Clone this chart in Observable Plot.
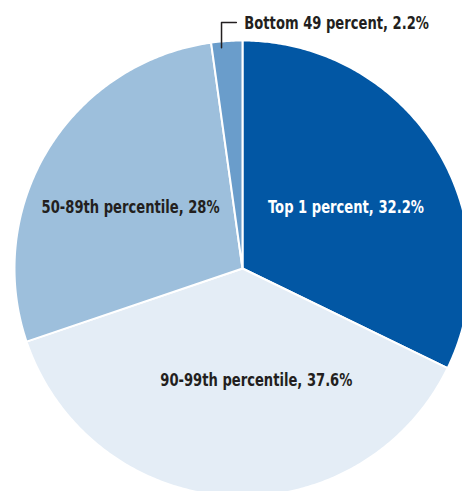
<!DOCTYPE html>
<html>
<head>
<meta charset="utf-8">
<script src="https://cdn.jsdelivr.net/npm/d3@7"></script>
<script src="https://cdn.jsdelivr.net/npm/@observablehq/plot@0.6"></script>
<style>
  html, body { margin: 0; padding: 0; background: #fff; overflow: hidden; }
  #chart svg { overflow: hidden; display: block; }
  #chart text { font-stretch: condensed; }
</style>
</head>
<body>
<div id="chart"></div>
<script>
const categories = ["Top 1 percent", "90-99th percentile", "50-89th percentile", "Bottom 49 percent"];
const shares = [32.2, 37.6, 28, 2.2];
const valueLabels = ["32.2%", "37.6%", "28%", "2.2%"];
const colors = ["#0257a4", "#e4edf6", "#9dbfdc", "#6a9dcb"];
const textColors = ["#ffffff", "#231f20", "#231f20", "#231f20"];

const rows = categories.map((c, i) => ({ category: c, share: shares[i], label: `${c}, ${valueLabels[i]}`, color: colors[i], textColor: textColors[i] }));
const arcs = d3.pie().sort(null).value(d => d.share)(rows);

// Polygon points of each slice in unit-circle coordinates
const polys = [];
arcs.forEach((a, i) => {
  polys.push({ k: i, x: 0, y: 0, color: a.data.color });
  const n = Math.max(4, Math.ceil((a.endAngle - a.startAngle) / 0.01));
  for (let j = 0; j <= n; j++) {
    const t = a.startAngle + (a.endAngle - a.startAngle) * j / n;
    polys.push({ k: i, x: Math.sin(t), y: Math.cos(t), color: a.data.color });
  }
  polys.push({ k: i, x: 0, y: 0, color: a.data.color });
});

const mid = a => (a.startAngle + a.endAngle) / 2;
const at = (a, r) => ({ x: Math.sin(mid(a)) * r, y: Math.cos(mid(a)) * r, label: a.data.label, fill: a.data.textColor });

const font = "'DejaVu Sans Condensed', 'DejaVu Sans', sans-serif";
const textStyle = { fontSize: 18, fontWeight: "bold", fontFamily: font };

const bottom = arcs[3];
const lx = Math.sin(mid(bottom)) * 0.97 - 0.025;
const callout = [
  { x: lx, y: Math.cos(mid(bottom)) * 0.97 },
  { x: lx, y: 1.079 },
  { x: lx + 0.065, y: 1.079 }
];

const chart = Plot.plot({
  width: 462,
  height: 491,
  margin: 0,
  x: { domain: [-1, 1], range: [14, 470], axis: null },
  y: { domain: [-1, 1], range: [496, 40], axis: null },
  marks: [
    Plot.line(polys, { x: "x", y: "y", z: "k", fill: "color", stroke: "#ffffff", strokeWidth: 2, strokeLinejoin: "round", curve: "linear" }),
    Plot.text([at(arcs[0], 0.52)], { x: "x", y: "y", text: "label", fill: "fill", ...textStyle, dx: 3, dy: 2 }),
    Plot.text([at(arcs[1], 0.5)], { x: "x", y: "y", text: "label", fill: "fill", ...textStyle, dx: 21, dy: -2 }),
    Plot.text([at(arcs[2], 0.52)], { x: "x", y: "y", text: "label", fill: "fill", ...textStyle, dx: -11, dy: 1 }),
    Plot.line(callout, { x: "x", y: "y", stroke: "#231f20", strokeWidth: 1.5 }),
    Plot.text([{ x: lx + 0.1, y: 1.079, label: arcs[3].data.label }], { x: "x", y: "y", text: "label", fill: "#231f20", textAnchor: "start", ...textStyle, dy: 1 })
  ]
});
document.getElementById("chart").append(chart);
// Narrow the bold labels horizontally to match the condensed face of the original
chart.querySelectorAll("text").forEach(t => {
  const w = t.getComputedTextLength();
  t.setAttribute("textLength", (w * 0.81).toFixed(1));
  t.setAttribute("lengthAdjust", "spacingAndGlyphs");
});
</script>
</body>
</html>
